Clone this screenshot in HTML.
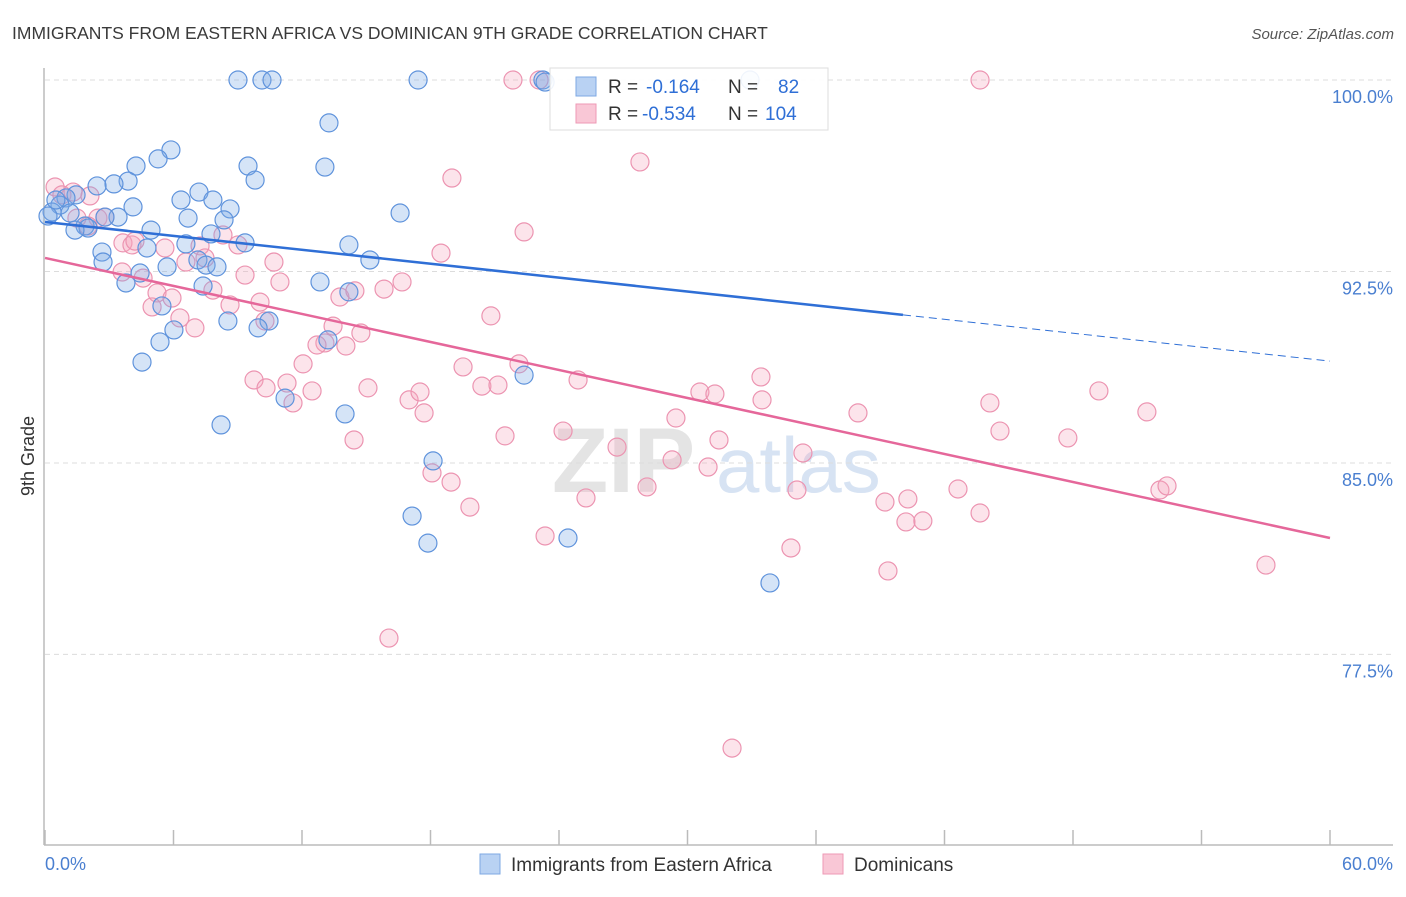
<!DOCTYPE html>
<html><head><meta charset="utf-8"><style>
body{margin:0;background:#fff;font-family:"Liberation Sans",sans-serif}
svg text{font-family:"Liberation Sans",sans-serif}
</style></head><body>
<svg id="chart" width="1406" height="892" viewBox="0 0 1406 892" xmlns="http://www.w3.org/2000/svg">
<text x="12" y="39" font-size="17.5" fill="#3a3a3a">IMMIGRANTS FROM EASTERN AFRICA VS DOMINICAN 9TH GRADE CORRELATION CHART</text>
<text x="1394" y="39" font-size="15" fill="#555" font-style="italic" text-anchor="end">Source: ZipAtlas.com</text>
<g>
<text x="552" y="492" font-size="92" fill="#e4e4e4" font-family="Liberation Serif" font-weight="bold">ZIP</text>
<text x="716" y="492" font-size="78" fill="#d7e3f3">atlas</text>
</g>
<g id="grid"></g>
<g id="axes"></g>
<g id="pts"></g>
<g id="lines"></g>
<g>
<rect x="550" y="68" width="278" height="62" fill="#fff" fill-opacity="0.9" stroke="#ddd"/>
<rect x="576" y="77" width="20" height="19" fill="#b9d2f3" stroke="#7ea8e3"/>
<rect x="576" y="104" width="20" height="19" fill="#f9c7d6" stroke="#ee9ab5"/>
<text x="608" y="93" font-size="19" fill="#333">R =</text>
<text x="646" y="93" font-size="19" fill="#2f6fd6">-0.164</text>
<text x="728" y="93" font-size="19" fill="#333">N =</text>
<text x="778" y="93" font-size="19" fill="#2f6fd6">82</text>
<text x="608" y="120" font-size="19" fill="#333">R =</text>
<text x="642" y="120" font-size="19" fill="#2f6fd6">-0.534</text>
<text x="728" y="120" font-size="19" fill="#333">N =</text>
<text x="765" y="120" font-size="19" fill="#2f6fd6">104</text>
</g>
<g>
<rect x="480" y="854" width="20" height="20" fill="#b9d2f3" stroke="#7ea8e3"/>
<text x="511" y="871" font-size="19" fill="#333">Immigrants from Eastern Africa</text>
<rect x="823" y="854" width="20" height="20" fill="#f9c7d6" stroke="#ee9ab5"/>
<text x="854" y="871" font-size="19" fill="#333">Dominicans</text>
</g>
</svg>
<script>
const blueX=[9.01,10.13,10.6,17.42,23.25,23.35,32.92,13.26,5.88,5.28,4.25,9.48,13.07,9.81,3.88,3.22,2.43,7.19,6.35,7.84,1.45,0.98,0.7,0.33,0.14,4.11,8.64,16.58,6.68,3.41,2.8,8.36,1.87,4.95,7.75,9.34,6.58,14.19,4.76,2.66,4.44,5.7,7.14,7.52,8.03,2.71,3.78,12.84,14.19,7.38,5.46,8.54,10.46,9.95,6.02,5.37,13.21,4.53,22.37,11.21,14.01,8.22,18.12,17.14,17.88,24.42,33.85,2.01,1.17,0.51,1.4,15.17];
const blueY=[100,100,100,100,100,99.92,100,98.32,97.26,96.91,96.63,96.63,96.59,96.08,96.04,95.93,95.85,95.61,95.3,95.3,95.5,95.38,95.1,94.83,94.67,95.03,94.95,94.79,94.59,94.63,94.63,94.52,94.28,94.12,93.97,93.62,93.58,93.54,93.42,93.26,92.44,92.68,92.95,92.75,92.68,92.87,92.05,92.09,91.7,91.93,91.15,90.56,90.56,90.29,90.21,89.74,89.82,88.95,88.44,87.54,86.92,86.49,85.08,82.92,81.86,82.06,80.3,94.2,94.79,95.3,94.12,92.95];
const pinkX=[21.85,23.07,43.66,27.78,19.0,22.37,0.47,0.79,1.31,2.1,2.47,2.01,2.8,1.49,3.64,4.06,4.2,5.6,7.24,8.31,9.01,3.6,4.58,5.23,5.93,5.0,6.3,7.0,6.58,7.47,7.84,9.34,10.69,10.97,8.64,10.04,10.27,12.05,13.45,13.07,12.7,14.75,14.05,13.77,14.47,15.83,16.67,18.49,20.82,19.52,9.76,10.32,11.3,11.58,12.47,15.08,17.0,17.51,17.7,22.13,20.4,21.15,24.89,14.43,18.07,18.96,19.84,21.48,24.19,25.26,26.71,28.11,29.28,29.46,30.58,31.28,31.47,30.96,33.43,33.48,35.11,35.39,34.83,37.96,39.22,40.29,40.2,40.99,39.36,42.63,43.66,44.12,44.59,47.76,49.21,51.45,52.06,52.39,57.01,16.06,32.08,23.35];
const pinkY=[100,100,100,96.79,96.16,94.05,95.81,95.5,95.61,95.46,94.59,94.28,94.63,94.59,93.62,93.54,93.69,93.42,93.5,93.93,93.54,92.48,92.24,91.66,91.46,91.11,90.68,90.29,92.87,93.03,91.77,92.36,92.87,92.09,91.19,91.3,90.56,88.88,90.36,89.7,89.62,90.09,89.58,91.5,91.74,91.81,92.09,93.22,90.76,88.76,88.25,87.94,88.13,87.35,87.82,87.94,87.47,87.78,86.96,88.88,88.01,88.05,88.25,85.9,84.61,84.25,83.27,86.06,86.25,83.63,85.62,84.06,85.12,86.76,87.78,87.7,85.9,84.84,88.37,87.47,83.94,85.39,81.67,86.96,83.47,83.59,82.69,82.73,80.77,83.98,83.04,87.35,86.25,85.98,87.82,87.0,83.94,84.1,81.0,78.14,73.83,82.14];
const yTicks=[100,92.5,85,77.5];
const yTickLabels=["100.0%","92.5%","85.0%","77.5%"];
const xTicks=[0,6,12,18,24,30,36,42,48,54,60];
const blueTrend=[94.44,88.99]; // y at x=0 and x=60, solid to x=40
const blueSolidEnd=40.06;
const pinkTrend=[93.03,82.06];

const NS="http://www.w3.org/2000/svg";
const sx=v=>45+v*1285/60;
const sy=v=>80+(100-v)*25.53;
function mk(tag,attrs,parent){const e=document.createElementNS(NS,tag);for(const k in attrs)e.setAttribute(k,attrs[k]);parent.appendChild(e);return e;}
const grid=document.getElementById('grid'),axes=document.getElementById('axes'),pts=document.getElementById('pts'),lines=document.getElementById('lines');
yTicks.forEach((t,i)=>{
  const g=mk('line',{x1:45,x2:1393,y1:sy(t),y2:sy(t),stroke:'#dcdcdc','stroke-dasharray':'5,4'},grid);
  
  
  const l=mk('text',{x:1393,y:sy(t)+23,'font-size':18,fill:'#4a7fd0','text-anchor':'end'},axes);
  l.textContent=yTickLabels[i];
  
  
});
mk('line',{x1:44,x2:44,y1:68,y2:845,stroke:'#bbb','stroke-width':1.5},axes);
mk('line',{x1:44,x2:1393,y1:845,y2:845,stroke:'#bbb','stroke-width':1.5},axes);
xTicks.forEach(t=>{
  const tk=mk('line',{x1:sx(t),x2:sx(t),y1:830,y2:845,stroke:'#bbb','stroke-width':1.5},axes);
  
  
});
const x0=mk('text',{x:45,y:870,'font-size':18,fill:'#4a7fd0'},axes);x0.textContent='0.0%';


const x1=mk('text',{x:1393,y:870,'font-size':18,fill:'#4a7fd0','text-anchor':'end'},axes);x1.textContent='60.0%';


const yt=mk('text',{x:34,y:456,'font-size':18,fill:'#333','text-anchor':'middle',transform:'rotate(-90 34 456)'},axes);yt.textContent='9th Grade';


pinkX.forEach((x,i)=>{
  const c=mk('circle',{cx:sx(x),cy:sy(pinkY[i]),r:9,fill:'rgba(246,166,190,0.3)',stroke:'#ec94b1','stroke-width':1.2},pts);
  
  
});
blueX.forEach((x,i)=>{
  const c=mk('circle',{cx:sx(x),cy:sy(blueY[i]),r:9,fill:'rgba(125,170,230,0.32)',stroke:'#5f93dc','stroke-width':1.2},pts);
  
  
});
const by=x=>blueTrend[0]+(blueTrend[1]-blueTrend[0])*x/60;
const l1=mk('line',{x1:sx(0),y1:sy(by(0)),x2:sx(blueSolidEnd),y2:sy(by(blueSolidEnd)),stroke:'#2f6fd6','stroke-width':2.5},lines);


const l2=mk('line',{x1:sx(blueSolidEnd),y1:sy(by(blueSolidEnd)),x2:sx(60),y2:sy(by(60)),stroke:'#2f6fd6','stroke-width':1,'stroke-dasharray':'8,5'},lines);


const l3=mk('line',{x1:sx(0),y1:sy(pinkTrend[0]),x2:sx(60),y2:sy(pinkTrend[1]),stroke:'#e5679a','stroke-width':2.5},lines);


</script>
</body></html>
